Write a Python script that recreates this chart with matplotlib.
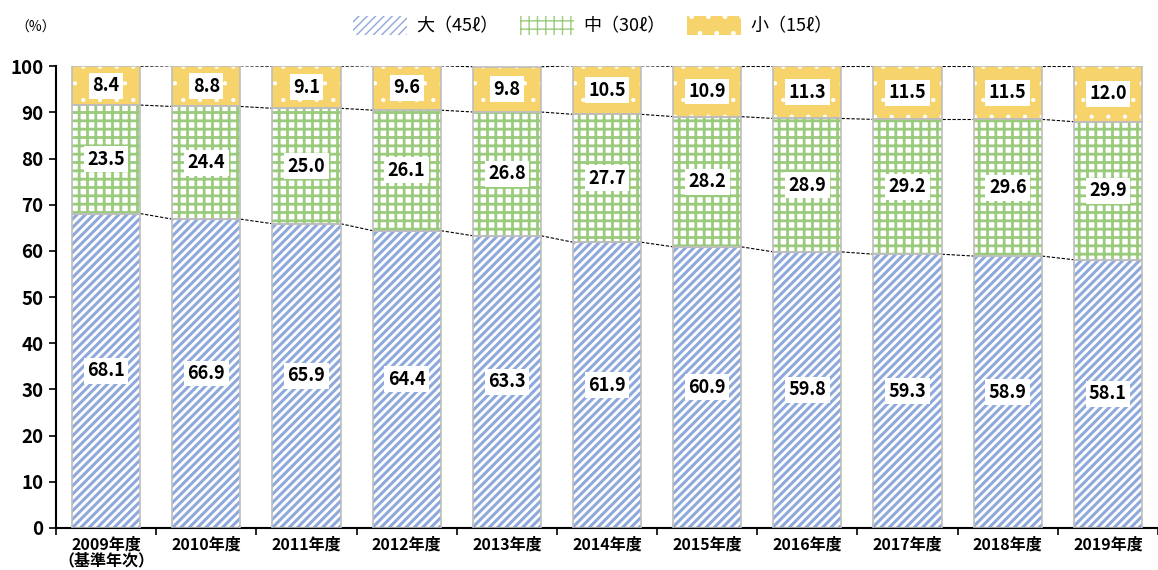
import matplotlib
matplotlib.use("Agg")
import matplotlib.pyplot as plt
from matplotlib.patches import Patch
import numpy as np

plt.rcParams['font.family'] = ['Noto Sans CJK JP', 'DejaVu Sans']

years = ['2009年度\n（基準年次）', '2010年度', '2011年度', '2012年度', '2013年度',
         '2014年度', '2015年度', '2016年度', '2017年度', '2018年度', '2019年度']
large = [68.1, 66.9, 65.9, 64.4, 63.3, 61.9, 60.9, 59.8, 59.3, 58.9, 58.1]
medium = [23.5, 24.4, 25.0, 26.1, 26.8, 27.7, 28.2, 28.9, 29.2, 29.6, 29.9]
small = [8.4, 8.8, 9.1, 9.6, 9.8, 10.5, 10.9, 11.3, 11.5, 11.5, 12.0]
series_names = ['大（45ℓ）', '中（30ℓ）', '小（15ℓ）']

blue = '#8EA9DB'
green = '#9ACB7C'
yellow = '#F7D36B'
edge = '#BDBDBD'

fig = plt.figure(figsize=(11.58, 5.70), dpi=100)
ax = fig.add_axes([0.0484, 0.0737, 0.9516, 0.810])

x = np.arange(len(years))
w = 0.68
large = np.array(large)
medium = np.array(medium)
small = np.array(small)

# (values, bottom, face colour, hatch colour, hatch, hatch linewidth)
styles = [
    (large, 0, 'white', blue, '////', 2.2),
    (medium, large, 'white', green, '++', 2.0),
    (small, large + medium, yellow, 'white', '.', 0.6),
]
handles = []
for vals, base, fc, hc, hatch, hlw in styles:
    with plt.rc_context({'hatch.linewidth': hlw}):
        ax.bar(x, vals, w, bottom=base, facecolor=fc, edgecolor=hc, hatch=hatch,
               linewidth=0, zorder=2)
        handles.append(Patch(facecolor=fc, edgecolor=hc, hatch=hatch, linewidth=0))
    ax.bar(x, vals, w, bottom=base, facecolor='none', edgecolor=edge,
           linewidth=1.2, zorder=3)
    for xi, v, b in zip(x, vals, np.broadcast_to(base, vals.shape)):
        ax.text(xi, b + v / 2, f'{v:.1f}', ha='center', va='center',
                fontsize=13, fontweight='bold', zorder=4,
                bbox=dict(facecolor='white', edgecolor='none', pad=2.5))

# dashed connectors between bars
levels = [large, large + medium, large + medium + small]
for lv in levels:
    for i in range(len(x) - 1):
        ax.plot([x[i] + w / 2, x[i + 1] - w / 2], [lv[i], lv[i + 1]],
                color='black', linestyle=(0, (3, 1.5)), linewidth=0.8, zorder=1)

ax.set_xlim(-0.5, 10.39)
ax.set_ylim(0, 100)
ax.set_yticks(range(0, 101, 10))
ax.set_xticks(x)
ax.set_xticklabels(years, fontsize=11.5, fontweight='bold', linespacing=1.0)
ax.set_xticks(np.arange(-0.5, 10.6, 1), minor=True)
ax.tick_params(axis='x', which='major', length=0, pad=6)
ax.tick_params(axis='x', which='minor', length=5, width=1.2, direction='out')
ax.tick_params(axis='y', length=5, width=1.2, labelsize=13.5, pad=4)
for lab in ax.get_yticklabels():
    lab.set_fontweight('bold')
for s in ['top', 'right']:
    ax.spines[s].set_visible(False)
ax.spines['left'].set_linewidth(1.5)
ax.spines['bottom'].set_linewidth(1.5)

fig.text(0.013, 0.945, '（%）', fontsize=10)

leg = fig.legend(handles, series_names, loc='upper center', ncol=3,
                 bbox_to_anchor=(0.512, 1.0), frameon=False, fontsize=13,
                 handlelength=3.0, handleheight=1.2, columnspacing=1.2,
                 handletextpad=0.5)

fig.savefig('out.png', dpi=100)
